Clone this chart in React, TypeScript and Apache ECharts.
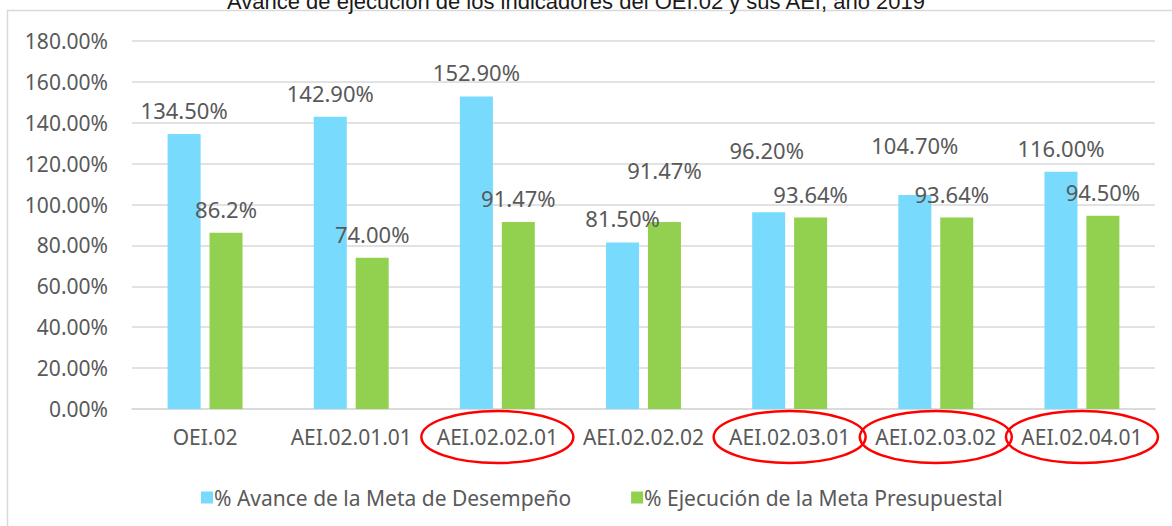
import React, { useEffect, useRef } from "react";
import * as echarts from "echarts";

const titleText = "Avance de ejecución de los indicadores del OEI.02 y sus AEI, año 2019";
const categories = ["OEI.02", "AEI.02.01.01", "AEI.02.02.01", "AEI.02.02.02", "AEI.02.03.01", "AEI.02.03.02", "AEI.02.04.01"];
const seriesNames = ["% Avance de la Meta de Desempeño", "% Ejecución de la Meta Presupuestal"];
const avance = [134.5, 142.9, 152.9, 81.5, 96.2, 104.7, 116.0];
const avanceLabels = ["134.50%", "142.90%", "152.90%", "81.50%", "96.20%", "104.70%", "116.00%"];
const ejecucion = [86.2, 74.0, 91.47, 91.47, 93.64, 93.64, 94.5];
const ejecucionLabels = ["86.2%", "74.00%", "91.47%", "91.47%", "93.64%", "93.64%", "94.50%"];
const highlighted = ["AEI.02.02.01", "AEI.02.03.01", "AEI.02.03.02", "AEI.02.04.01"];
const yMin = 0;
const yMax = 180;
const yInterval = 20;

// label placement tweaks (styling only)
const avanceLabelOffsets = [[0, 0], [0, 0], [0, 0], [0, 0], [-2, -38], [0, -26], [0, 0]];
const ejecucionLabelOffsets = [[0, 0], [0, 0], [0, 0], [0, -28], [0, 0], [-5, 0], [0, 0]];

const FONT = "Noto Sans";
const TEXT = "#595959";
const GRID = "#D9D9D9";

export default function App() {
  const ref = useRef<HTMLDivElement>(null);
  useEffect(() => {
    if (!ref.current) return;
    const chart = echarts.init(ref.current, null, { renderer: "svg" });
    const mkData = (vals: number[], labels: string[], offs: number[][]) =>
      vals.map((v, i) => ({
        value: v,
        label: { offset: offs[i], formatter: labels[i] },
      }));
    chart.setOption({
      animation: false,
      backgroundColor: "#fff",
      title: {
        text: titleText,
        left: 222,
        top: -15,
        textStyle: { fontFamily: "Liberation Sans", fontSize: 22, fontWeight: "normal", color: "#1a1a1a" },
      },
      grid: { left: 132, right: 17, top: 41, bottom: 117 },
      legend: {
        left: 196,
        top: 482,
        itemWidth: 12,
        itemHeight: 12,
        itemGap: 60,
        icon: "rect",
        textStyle: { fontFamily: FONT, fontSize: 21, color: TEXT, padding: [0, 0, 0, -4] },
        data: seriesNames,
      },
      xAxis: {
        type: "category",
        data: categories,
        axisLine: { lineStyle: { color: GRID, width: 1.5 } },
        axisTick: { show: false },
        axisLabel: { fontFamily: FONT, fontSize: 21, color: TEXT, margin: 17, interval: 0 },
      },
      yAxis: {
        type: "value",
        min: yMin,
        max: yMax,
        interval: yInterval,
        axisLine: { show: false },
        axisTick: { show: false },
        splitLine: { lineStyle: { color: GRID, width: 1.5 } },
        axisLabel: {
          fontFamily: FONT,
          fontSize: 21,
          color: TEXT,
          margin: 24,
          formatter: (v: number) => v.toFixed(2) + "%",
        },
      },
      series: [
        {
          name: seriesNames[0],
          type: "bar",
          barWidth: 33,
          barGap: "27%",
          itemStyle: { color: "#78DAFC" },
          label: { show: true, position: "top", distance: 13, fontFamily: FONT, fontSize: 22, color: TEXT },
          data: mkData(avance, avanceLabels, avanceLabelOffsets),
        },
        {
          name: seriesNames[1],
          type: "bar",
          barWidth: 33,
          itemStyle: { color: "#92D050" },
          label: { show: true, position: "top", distance: 13, fontFamily: FONT, fontSize: 22, color: TEXT },
          data: mkData(ejecucion, ejecucionLabels, ejecucionLabelOffsets),
        },
      ],
    });

    const baseY = chart.convertToPixel({ yAxisIndex: 0 }, yMin) as number;
    const ellipses = highlighted.map((c) => {
      const cx = chart.convertToPixel({ xAxisIndex: 0 }, c) as number;
      return {
        type: "ellipse",
        shape: { cx, cy: baseY + 28, rx: 76, ry: 26 },
        style: { fill: "none", stroke: "#FF0000", lineWidth: 2.5 },
        z: 100,
      };
    });
    chart.setOption({
      graphic: [
        {
          type: "rect",
          shape: { x: 7.5, y: 10.5, width: 1300, height: 700 },
          style: { fill: "none", stroke: GRID, lineWidth: 1.5 },
          silent: true,
        },
        ...ellipses,
      ],
    });
    return () => chart.dispose();
  }, []);
  return <div ref={ref} style={{ position: "absolute", left: 0, top: 0, width: 1172, height: 526 }} />;
}
